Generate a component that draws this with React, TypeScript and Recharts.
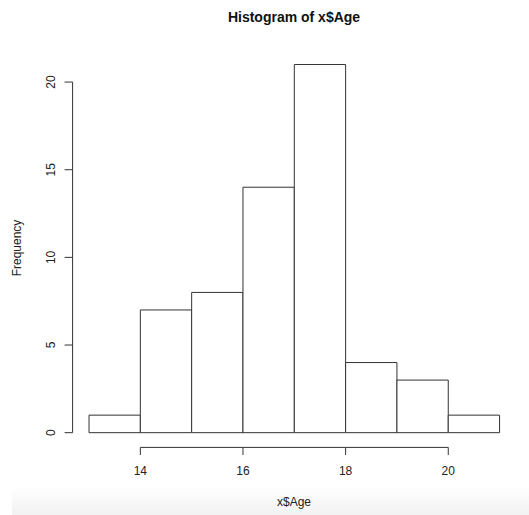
import React from "react";
import { ComposedChart, XAxis, YAxis, ReferenceArea, ReferenceLine, Customized } from "recharts";

// Histogram bins of Age (left edge, right edge) and their counts
const binStarts = [13, 14, 15, 16, 17, 18, 19, 20];
const binEnds = [14, 15, 16, 17, 18, 19, 20, 21];
const counts = [1, 7, 8, 14, 21, 4, 3, 1];

const xTicks = [14, 16, 18, 20];
const yTicks = [0, 5, 10, 15, 20];

const bins = binStarts.map((lo, i) => ({ lo, hi: binEnds[i], count: counts[i] }));

// R-style plot region: data range padded by 4% on each side
const xMin = Math.min(...binStarts);
const xMax = Math.max(...binEnds);
const yMax = Math.max(...counts);
const xPad = (xMax - xMin) * 0.04;
const yPad = yMax * 0.04;
const xDomain: [number, number] = [xMin - xPad, xMax + xPad];
const yDomain: [number, number] = [-yPad, yMax + yPad];

const FONT = "'Liberation Sans', Arial, sans-serif";
const INK = "#333333";

const XTick = (props: any) => {
  const { x, y, payload } = props;
  return (
    <g>
      <line x1={x} y1={y} x2={x} y2={y + 7.6} stroke={INK} strokeWidth={1} />
      <text x={x} y={y + 28} textAnchor="middle" fontFamily={FONT} fontSize={12} fill="#222">
        {payload.value}
      </text>
    </g>
  );
};

const YTick = (props: any) => {
  const { x, y, payload } = props;
  return (
    <g>
      <line x1={x} y1={y} x2={x - 8} y2={y} stroke={INK} strokeWidth={1} />
      <text
        x={x - 18}
        y={y}
        transform={`rotate(-90 ${x - 18} ${y})`}
        textAnchor="middle"
        fontFamily={FONT}
        fontSize={12}
        fill="#222"
      >
        {payload.value}
      </text>
    </g>
  );
};

const Titles = () => (
  <g fontFamily={FONT}>
    <text x={294} y={22} textAnchor="middle" fontSize={14} fontWeight="bold" fill="#111">
      Histogram of x$Age
    </text>
    <text x={294} y={506} textAnchor="middle" fontSize={12} fill="#222">
      x$Age
    </text>
    <text
      x={21}
      y={248}
      transform="rotate(-90 21 248)"
      textAnchor="middle"
      fontSize={12}
      fill="#222"
    >
      Frequency
    </text>
  </g>
);

export default function App() {
  return (
    <div style={{ position: "absolute", left: 0, top: 0, width: 529, height: 515, background: "#fff" }}>
      <div
        style={{
          position: "absolute",
          left: 12,
          top: 486,
          width: 517,
          height: 29,
          background: "linear-gradient(#ffffff, #f2f2f2)",
        }}
      />
      <ComposedChart
        width={529}
        height={515}
        data={bins}
        margin={{ top: 49.8, right: 13, bottom: 37.6, left: 12.6 }}
        style={{ position: "absolute", left: 0, top: 0 }}
      >
        <XAxis
          type="number"
          dataKey="lo"
          domain={xDomain}
          ticks={xTicks}
          allowDataOverflow
          axisLine={false}
          tickLine={false}
          tickSize={0}
          tickMargin={0}
          tick={<XTick />}
          height={30}
        />
        <YAxis
          type="number"
          domain={yDomain}
          ticks={yTicks}
          allowDataOverflow
          axisLine={false}
          tickLine={false}
          tickSize={0}
          tickMargin={0}
          tick={<YTick />}
          width={60}
        />
        {bins.map((b) => (
          <ReferenceArea
            key={b.lo}
            x1={b.lo}
            x2={b.hi}
            y1={0}
            y2={b.count}
            fill="#ffffff"
            fillOpacity={1}
            stroke={INK}
            strokeWidth={1}
            ifOverflow="visible"
          />
        ))}
        <ReferenceLine
          segment={[
            { x: xTicks[0], y: yDomain[0] },
            { x: xTicks[xTicks.length - 1], y: yDomain[0] },
          ]}
          stroke={INK}
          strokeWidth={1}
          ifOverflow="visible"
        />
        <ReferenceLine
          segment={[
            { x: xDomain[0], y: yTicks[0] },
            { x: xDomain[0], y: yTicks[yTicks.length - 1] },
          ]}
          stroke={INK}
          strokeWidth={1}
          ifOverflow="visible"
        />
        <Customized component={Titles} />
      </ComposedChart>
    </div>
  );
}
